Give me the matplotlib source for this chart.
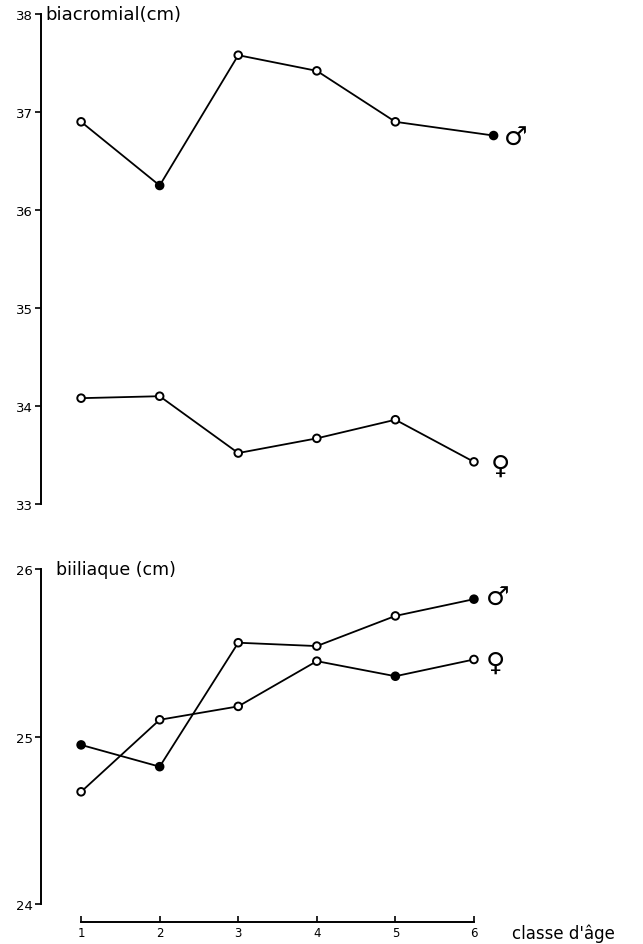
import matplotlib.pyplot as plt

age_class = [1, 2, 3, 4, 5, 6]
age_labels = ["1", "2", "3", "4", "5", "6"]

# the last male biacromial point sits a little right of class 6 in the print
biacromial_male_x = [1, 2, 3, 4, 5, 6.25]
biacromial_male = [36.90, 36.25, 37.58, 37.42, 36.90, 36.76]
biacromial_female = [34.08, 34.10, 33.52, 33.67, 33.86, 33.43]
biiliaque_male = [24.95, 24.82, 25.56, 25.54, 25.72, 25.82]
biiliaque_female = [24.67, 25.10, 25.18, 25.45, 25.36, 25.46]

biacromial_ticks = [33, 34, 35, 36, 37, 38]
biiliaque_ticks = [24, 25, 26]

XLIM = (0.49, 8.15)


def draw_series(ax, x, y, filled):
    ax.plot(x, y, color="black", lw=1.3, zorder=2)
    faces = ["black" if i in filled else "white" for i in range(len(y))]
    ax.scatter(x, y, s=30, facecolors=faces, edgecolors="black",
               linewidths=1.4, zorder=3)


def style_y(ax, lim, ticks):
    ax.set_xlim(*XLIM)
    ax.set_ylim(*lim)
    ax.set_yticks(ticks)
    ax.set_xticks([])
    for side in ("top", "right", "bottom"):
        ax.spines[side].set_visible(False)
    ax.spines["left"].set_linewidth(1.4)
    ax.tick_params(axis="y", direction="out", length=4, width=1.2,
                   labelsize=9.5, pad=2)
    ax.patch.set_alpha(0)


fig = plt.figure(figsize=(6.43, 9.45), dpi=100)

# biacromial
ax1 = fig.add_axes([0.0638, 0.4656, 0.936, 0.5185])
style_y(ax1, (33, 38), biacromial_ticks)
draw_series(ax1, biacromial_male_x, biacromial_male, filled={1, 5})
draw_series(ax1, age_class, biacromial_female, filled=set())
ax1.text(0.55, 38, "biacromial(cm)", fontsize=13, va="center", ha="left")
ax1.text(6.38, biacromial_male[-1] - 0.02, "\u2642", fontsize=19,
         va="center", ha="left")
ax1.text(6.22, biacromial_female[-1] - 0.04, "\u2640", fontsize=19,
         va="center", ha="left")

# biiliaque
ax2 = fig.add_axes([0.0638, 0.0423, 0.936, 0.3545])
style_y(ax2, (24, 26), biiliaque_ticks)
draw_series(ax2, age_class, biiliaque_male, filled={0, 1, 5})
draw_series(ax2, age_class, biiliaque_female, filled={4})
ax2.text(0.68, 26, "biiliaque (cm)", fontsize=12.5, va="center", ha="left")
ax2.text(6.15, biiliaque_male[-1] + 0.01, "\u2642", fontsize=19,
         va="center", ha="left")
ax2.text(6.15, biiliaque_female[-1] - 0.02, "\u2640", fontsize=19,
         va="center", ha="left")

# shared age axis
ax3 = fig.add_axes([0.0638, 0.0233, 0.936, 0.0005])
ax3.set_xlim(*XLIM)
ax3.set_yticks([])
for side in ("top", "right", "left"):
    ax3.spines[side].set_visible(False)
ax3.spines["bottom"].set_bounds(1, 6)
ax3.spines["bottom"].set_linewidth(1.4)
ax3.set_xticks(age_class, labels=age_labels)
ax3.tick_params(axis="x", direction="in", length=4, width=1.2,
                labelsize=8.5, pad=3)
ax3.patch.set_alpha(0)
ax3.text(6.48, -3, "classe d'\u00e2ge", fontsize=12, va="top", ha="left",
         transform=ax3.get_xaxis_transform())

fig.savefig("out.png", dpi=100)
